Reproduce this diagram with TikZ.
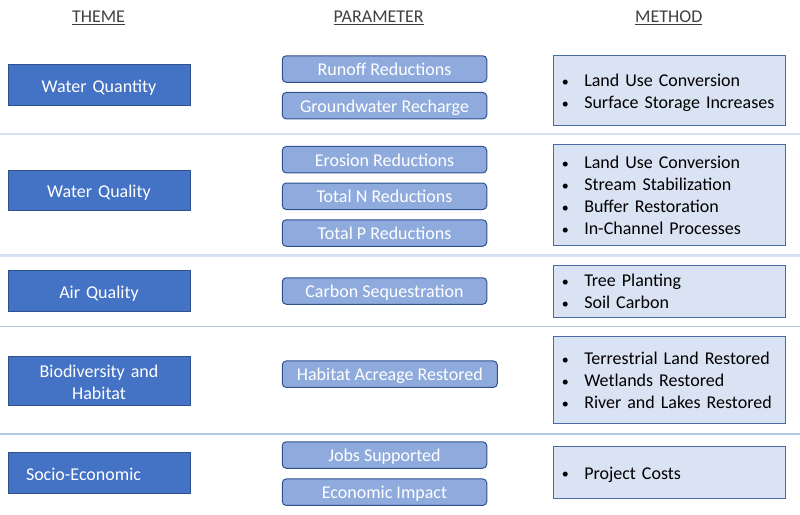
\documentclass[tikz,border=0pt]{standalone}
\usepackage{fontspec}
\setmainfont{Carlito}
\definecolor{themeblue}{HTML}{4472C4}
\definecolor{themeedge}{HTML}{2F528F}
\definecolor{parblue}{HTML}{8FAADC}
\definecolor{paredge}{HTML}{2F528F}
\definecolor{methblue}{HTML}{DAE3F3}
\definecolor{methedge}{HTML}{4A6AA5}
\definecolor{sepwide}{HTML}{D6E0F2}
\definecolor{septhin}{HTML}{B4C7E7}
\definecolor{headgray}{HTML}{404040}
\newcommand{\itm}[1]{\makebox[23pt][l]{\hspace{0.5pt}{\fontsize{14}{14}\selectfont\raisebox{0.6pt}{\textbullet}}}#1}

\begin{document}
\begin{tikzpicture}[x=1pt,y=-1pt,
  every node/.style={font=\fontsize{18}{22}\selectfont},
  theme/.style={draw=themeedge,fill=themeblue,text=white,line width=1pt,minimum width=182pt,minimum height=40.5pt,text width=146pt,inner xsep=18pt,align=center,text height=17pt,text depth=2.6pt},
  param/.style={draw=paredge,fill=parblue,text=white,line width=1pt,rounded corners=4pt,minimum width=204.5pt,minimum height=26.5pt,text height=16.5pt,text depth=3.2pt},
  method/.style={draw=methedge,fill=methblue,text=black,line width=1pt,minimum width=232.5pt,text width=216.5pt,inner xsep=8pt,align=left,text height=17pt},
  heading/.style={text=headgray},
  widesep/.style={draw=sepwide,line width=2.2pt},
  thinsep/.style={draw=septhin,line width=1.5pt}]
\useasboundingbox (0,0) rectangle (800,514);

\node[heading] (hTheme) at (98.5,18) {\underline{THEME}};
\node[heading] (hParam) at (378.7,18) {\underline{PARAMETER}};
\node[heading] (hMeth) at (668.8,18) {\underline{METHOD}};

\draw[widesep] (0,134) -- (800,134);
\draw[widesep] (0,255.5) -- (800,255.5);
\draw[thinsep] (0,326.5) -- (800,326.5);
\draw[thinsep] (0,434) -- (800,434);

\node[theme] (tQuant) at (99,85) {Water Quantity};
\node[theme] (tQual) at (99,190.7) {Water Quality};
\node[theme] (tAir) at (99,291) {Air Quality};
\node[theme,text depth=24.6pt] (tBio) at (99,381) {Biodiversity and\\Habitat};
\node[theme,align=left] (tSocio) at (99,473) {Socio-Economic};

\node[param] (pRunoff) at (384.5,69) {Runoff Reductions};
\node[param] (pGround) at (384.5,105.7) {Groundwater Recharge};
\node[param] (pErosion) at (384.5,159.7) {Erosion Reductions};
\node[param] (pTotN) at (384.5,196.3) {Total N Reductions};
\node[param] (pTotP) at (384.5,233) {Total P Reductions};
\node[param] (pCarbon) at (384.5,291) {Carbon Sequestration};
\node[param,minimum width=215pt] (pHabitat) at (389.8,374.2) {Habitat Acreage Restored};
\node[param] (pJobs) at (384.5,455) {Jobs Supported};
\node[param] (pEcon) at (384.5,492.2) {Economic Impact};

\node[method,minimum height=70.3pt,text depth=25.4pt] (mQuant) at (669.5,90.8) {\itm{Land Use Conversion}\\\itm{Surface Storage Increases}};
\node[method,minimum height=101.7pt,text depth=69.4pt] (mQual) at (669.5,194.9) {\itm{Land Use Conversion}\\\itm{Stream Stabilization}\\\itm{Buffer Restoration}\\\itm{In-Channel Processes}};
\node[method,minimum height=52pt,text depth=25.4pt] (mAir) at (669.5,291) {\itm{Tree Planting}\\\itm{Soil Carbon}};
\node[method,minimum height=86.6pt,text depth=47.4pt] (mBio) at (669.5,380) {\itm{Terrestrial Land Restored}\\\itm{Wetlands Restored}\\\itm{River and Lakes Restored}};
\node[method,minimum height=52pt,text depth=3.4pt] (mSocio) at (669.5,472.7) {\itm{Project Costs}};
\end{tikzpicture}
\end{document}
